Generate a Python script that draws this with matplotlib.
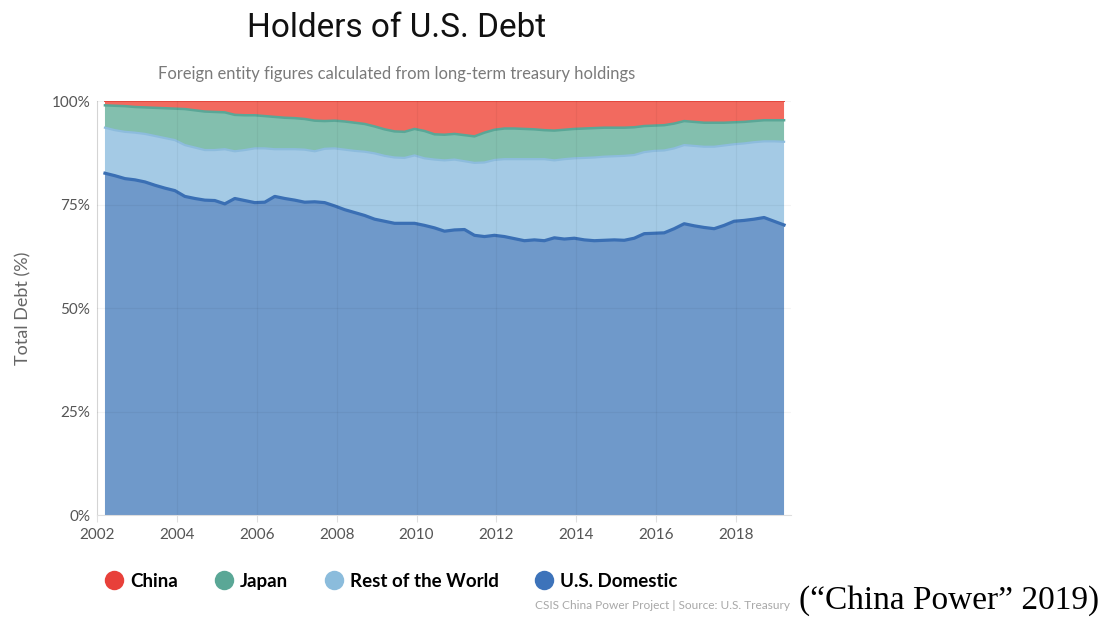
import matplotlib
matplotlib.use("Agg")
import matplotlib.pyplot as plt
from matplotlib.lines import Line2D
import numpy as np

# quarterly observations, first one late Q1 2002, last one late Q1 2019
start_year = 2002.2
n_quarters = 69

us_domestic = [82.6, 82.0, 81.3, 81.0, 80.5, 79.7, 79.0, 78.4, 77.0, 76.5, 76.1, 76.0,
               75.2, 76.5, 76.0, 75.5, 75.6, 77.0, 76.5, 76.1, 75.6, 75.7, 75.5, 74.7,
               73.8, 73.1, 72.4, 71.5, 71.0, 70.5, 70.5, 70.5, 70.0, 69.4, 68.6, 68.9,
               69.0, 67.6, 67.3, 67.6, 67.3, 66.8, 66.3, 66.5, 66.3, 67.0, 66.7, 66.9,
               66.5, 66.3, 66.4, 66.5, 66.4, 66.9, 68.0, 68.1, 68.2, 69.2, 70.4, 69.9,
               69.5, 69.2, 70.0, 71.0, 71.2, 71.5, 71.9, 71.0, 70.1]
rest_of_world = [11.0, 11.0, 11.3, 11.4, 11.6, 11.9, 12.1, 12.2, 12.4, 12.3, 12.1, 12.2,
                 13.2, 11.4, 12.2, 13.1, 13.0, 11.4, 11.9, 12.3, 12.7, 12.2, 13.0, 13.9,
                 14.5, 14.9, 15.4, 15.9, 15.8, 15.9, 15.8, 16.4, 16.2, 16.5, 17.1, 17.0,
                 16.5, 17.5, 17.9, 18.2, 18.7, 19.2, 19.7, 19.5, 19.7, 18.7, 19.3, 19.3,
                 19.8, 20.1, 20.2, 20.2, 20.4, 20.1, 19.7, 19.9, 19.9, 19.4, 19.0, 19.3,
                 19.5, 19.8, 19.3, 18.6, 18.6, 18.6, 18.4, 19.3, 20.1]
japan = [5.4, 5.9, 6.2, 6.2, 6.4, 6.8, 7.2, 7.6, 8.7, 9.0, 9.3, 9.2,
         8.9, 8.8, 8.4, 8.0, 7.8, 7.8, 7.6, 7.5, 7.4, 7.4, 6.7, 6.7,
         6.8, 6.8, 6.7, 6.5, 6.4, 6.3, 6.3, 6.4, 6.6, 6.1, 6.2, 6.2,
         6.3, 6.4, 7.2, 7.3, 7.4, 7.4, 7.3, 7.2, 7.0, 7.2, 7.1, 7.1,
         7.1, 7.1, 7.0, 6.9, 6.8, 6.7, 6.3, 6.1, 6.1, 6.0, 5.8, 5.8,
         5.8, 5.8, 5.5, 5.3, 5.2, 5.1, 5.1, 5.1, 5.2]
china = [1.0, 1.1, 1.2, 1.4, 1.5, 1.6, 1.7, 1.8, 1.9, 2.2, 2.5, 2.6,
         2.7, 3.3, 3.4, 3.4, 3.6, 3.8, 4.0, 4.1, 4.3, 4.7, 4.8, 4.7,
         4.9, 5.2, 5.5, 6.1, 6.8, 7.3, 7.4, 6.7, 7.2, 8.0, 8.1, 7.9,
         8.2, 8.5, 7.6, 6.9, 6.6, 6.6, 6.7, 6.8, 7.0, 7.1, 6.9, 6.7,
         6.6, 6.5, 6.4, 6.4, 6.4, 6.3, 6.0, 5.9, 5.8, 5.4, 4.8, 5.0,
         5.2, 5.2, 5.2, 5.1, 5.0, 4.8, 4.6, 4.6, 4.6]

labels = ['China', 'Japan', 'Rest of the World', 'U.S. Domestic']
year_ticks = [2002, 2004, 2006, 2008, 2010, 2012, 2014, 2016, 2018]
pct_ticks = [0, 25, 50, 75, 100]

fill_colors = ['#6f99ca', '#a4cae5', '#83bfae', '#f26a5f']    # bottom -> top
line_colors = ['#3a6fb4', '#8dbcdd', '#5aa797', '#ee4b40']
dot_colors = {'China': '#e8403a', 'Japan': '#5aa796',
              'Rest of the World': '#8bbcdc', 'U.S. Domestic': '#3d73ba'}

years = start_year + 0.25 * np.arange(n_quarters)
layers = np.array([us_domestic, rest_of_world, japan, china])
tops = np.cumsum(layers, axis=0)

fig = plt.figure(figsize=(11.02, 6.17), dpi=100)
ax = fig.add_axes([0.088, 0.165, 0.630, 0.671])

ax.stackplot(years, layers, colors=fill_colors, linewidth=0)
for top, c, lw in zip(tops, line_colors, [2.3, 1.6, 1.8, 1.4]):
    ax.plot(years, top, color=c, lw=lw, solid_joinstyle='round')

ax.set_xlim(2002, 2019.38)
ax.set_ylim(0, 100)
ax.set_xticks(year_ticks)
ax.set_yticks(pct_ticks)
ax.set_yticklabels([f'{p}%' for p in pct_ticks])
ax.grid(True, color='#000000', alpha=0.045, lw=0.9)
ax.set_axisbelow(False)

for side in ['top', 'right']:
    ax.spines[side].set_visible(False)
for side in ['left', 'bottom']:
    ax.spines[side].set_color('#dedede')
ax.tick_params(axis='x', length=5, color='#e0e0e0', labelsize=11, labelcolor='#555555', pad=4)
ax.tick_params(axis='y', length=0, labelsize=11, labelcolor='#555555', pad=5)
for t in ax.get_xticklabels() + ax.get_yticklabels():
    t.set_family('Lato')

ax.set_ylabel('Total Debt (%)', family='Lato', fontsize=13, color='#666666', labelpad=14)

fig.text(0.360, 0.955, 'Holders of U.S. Debt', ha='center', va='center',
         family='Roboto', fontsize=24, color='#111111')
fig.text(0.360, 0.880, 'Foreign entity figures calculated from long-term treasury holdings',
         ha='center', va='center', family='Lato', fontsize=11.9, color='#7a7a7a')

handles = [Line2D([], [], ls='none', marker='o', markersize=14,
                  markerfacecolor=dot_colors[l], markeredgecolor='none') for l in labels]
leg = fig.legend(handles, labels, ncol=4, loc='center left', bbox_to_anchor=(0.078, 0.058),
                 frameon=False, handletextpad=0.25, columnspacing=1.85, handlelength=1.2,
                 prop={'family': 'Lato', 'weight': 'bold', 'size': 13.5})

fig.text(0.717, 0.018, 'CSIS China Power Project | Source: U.S. Treasury', ha='right', va='center',
         family='Lato', fontsize=8.6, color='#a8a8a8')
fig.text(0.997, 0.027, '(\u201cChina Power\u201d 2019)', ha='right', va='center',
         family='Liberation Serif', fontsize=24, color='#000000')

fig.savefig('out.png', dpi=100)
